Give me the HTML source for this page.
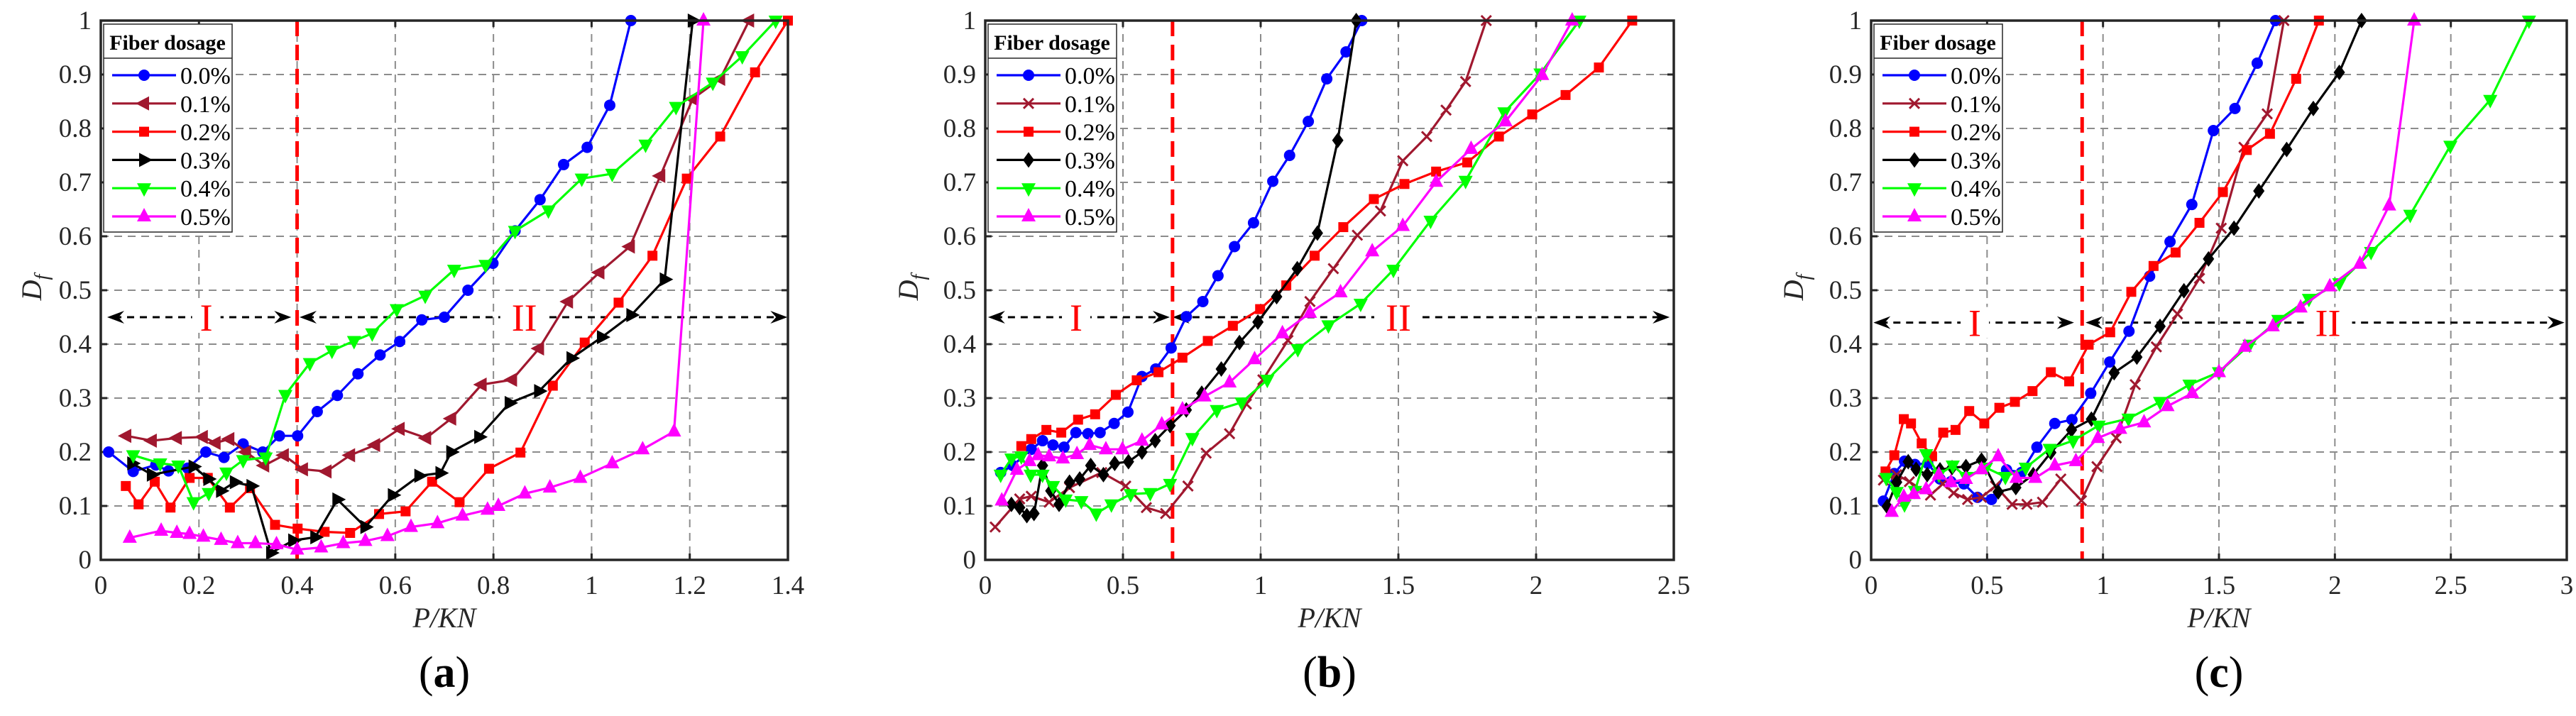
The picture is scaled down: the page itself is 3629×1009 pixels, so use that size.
<!DOCTYPE html>
<html><head><meta charset="utf-8">
<style>
html,body{margin:0;padding:0;background:#fff;}
svg{display:block;}
svg text{font-family:"Liberation Serif","DejaVu Serif",serif;}
</style></head>
<body>
<svg id="fig" width="3629" height="1009" viewBox="0 0 3629 1009" xmlns="http://www.w3.org/2000/svg"></svg>
<script>
// ---------- Panel (a) data ----------
const aX0=[0.016,0.066,0.112,0.138,0.177,0.214,0.251,0.29,0.33,0.364,0.401,0.441,0.482,0.524,0.569,0.609,0.654,0.70,0.748,0.799,0.844,0.895,0.943,0.991,1.037,1.08];
const aY0=[0.20,0.164,0.176,0.165,0.17,0.20,0.19,0.215,0.20,0.23,0.23,0.275,0.305,0.345,0.38,0.405,0.445,0.45,0.50,0.55,0.61,0.668,0.733,0.765,0.843,1.0];
const aX1=[0.052,0.104,0.155,0.208,0.234,0.262,0.296,0.333,0.373,0.412,0.46,0.508,0.559,0.609,0.663,0.714,0.776,0.838,0.893,0.952,1.016,1.078,1.14,1.206,1.262,1.321];
const aY1=[0.23,0.221,0.226,0.228,0.217,0.224,0.2,0.175,0.194,0.168,0.164,0.194,0.213,0.243,0.226,0.262,0.325,0.334,0.392,0.479,0.533,0.581,0.712,0.855,0.892,1.0];
const aX2=[0.051,0.077,0.11,0.142,0.181,0.218,0.263,0.304,0.355,0.401,0.456,0.508,0.567,0.621,0.675,0.731,0.791,0.855,0.921,0.986,1.055,1.124,1.194,1.262,1.333,1.4];
const aY2=[0.137,0.103,0.145,0.097,0.152,0.152,0.097,0.133,0.065,0.058,0.052,0.05,0.085,0.09,0.145,0.107,0.169,0.199,0.323,0.403,0.477,0.564,0.707,0.785,0.904,1.0];
const aX3=[0.064,0.104,0.189,0.219,0.245,0.273,0.307,0.347,0.392,0.437,0.482,0.539,0.595,0.649,0.692,0.714,0.771,0.833,0.893,0.959,1.021,1.081,1.149,1.206];
const aY3=[0.179,0.158,0.173,0.15,0.128,0.144,0.137,0.013,0.036,0.042,0.112,0.061,0.12,0.156,0.161,0.2,0.228,0.291,0.313,0.374,0.413,0.454,0.52,1.0];
const aX4=[0.066,0.121,0.158,0.189,0.22,0.256,0.29,0.336,0.376,0.426,0.471,0.516,0.553,0.603,0.661,0.72,0.784,0.844,0.912,0.98,1.042,1.11,1.172,1.247,1.307,1.375];
const aY4=[0.194,0.179,0.175,0.107,0.124,0.162,0.185,0.19,0.306,0.365,0.388,0.406,0.42,0.465,0.49,0.538,0.547,0.61,0.648,0.707,0.716,0.77,0.84,0.885,0.934,1.0];
const aX5=[0.059,0.123,0.155,0.181,0.209,0.245,0.279,0.315,0.358,0.4,0.449,0.494,0.539,0.584,0.632,0.686,0.737,0.788,0.81,0.864,0.915,0.977,1.042,1.104,1.168,1.228];
const aY5=[0.041,0.054,0.05,0.048,0.043,0.037,0.031,0.031,0.029,0.019,0.023,0.031,0.035,0.044,0.061,0.068,0.082,0.093,0.1,0.123,0.134,0.152,0.179,0.205,0.238,1.0];
const aXTicks=["0","0.2","0.4","0.6","0.8","1","1.2","1.4"];
// ---------- Panel (b) data ----------
const bX0=[0.056,0.1,0.167,0.208,0.246,0.286,0.329,0.373,0.417,0.468,0.518,0.569,0.619,0.675,0.73,0.79,0.845,0.905,0.974,1.044,1.105,1.173,1.24,1.31,1.367];
const bY0=[0.162,0.175,0.205,0.221,0.213,0.209,0.236,0.234,0.236,0.253,0.274,0.34,0.354,0.393,0.451,0.479,0.527,0.581,0.625,0.702,0.75,0.813,0.892,0.942,1.0];
const bX1=[0.036,0.125,0.167,0.232,0.306,0.423,0.51,0.585,0.655,0.736,0.802,0.887,0.948,1.008,1.099,1.179,1.264,1.351,1.435,1.516,1.603,1.673,1.744,1.819];
const bY1=[0.061,0.113,0.118,0.107,0.134,0.162,0.137,0.097,0.086,0.137,0.198,0.234,0.289,0.334,0.407,0.479,0.54,0.602,0.647,0.74,0.785,0.834,0.887,1.0];
const bX2=[0.131,0.167,0.222,0.276,0.337,0.399,0.474,0.55,0.629,0.716,0.808,0.899,0.998,1.093,1.196,1.3,1.411,1.522,1.637,1.75,1.865,1.986,2.107,2.228,2.349];
const bY2=[0.211,0.224,0.241,0.236,0.26,0.27,0.306,0.333,0.348,0.375,0.406,0.434,0.465,0.509,0.564,0.617,0.669,0.697,0.72,0.737,0.785,0.826,0.862,0.913,1.0];
const bX3=[0.095,0.125,0.151,0.177,0.208,0.238,0.268,0.306,0.343,0.383,0.429,0.47,0.52,0.569,0.617,0.671,0.73,0.786,0.857,0.923,0.99,1.058,1.133,1.206,1.28,1.347];
const bY3=[0.103,0.097,0.082,0.086,0.175,0.128,0.103,0.144,0.15,0.175,0.158,0.179,0.182,0.2,0.221,0.249,0.278,0.309,0.354,0.403,0.441,0.488,0.54,0.606,0.778,1.0];
const bX4=[0.056,0.095,0.131,0.165,0.208,0.246,0.292,0.349,0.403,0.458,0.528,0.599,0.671,0.752,0.841,0.931,1.024,1.135,1.246,1.363,1.482,1.617,1.744,1.885,2.016,2.157];
const bY4=[0.158,0.188,0.192,0.158,0.158,0.137,0.112,0.109,0.086,0.103,0.122,0.124,0.141,0.226,0.278,0.292,0.334,0.391,0.435,0.475,0.538,0.629,0.703,0.83,0.902,1.0];
const bX5=[0.06,0.115,0.161,0.192,0.232,0.282,0.333,0.379,0.438,0.498,0.569,0.641,0.716,0.796,0.887,0.978,1.079,1.179,1.29,1.405,1.516,1.637,1.764,1.889,2.022,2.131];
const bY5=[0.11,0.167,0.183,0.194,0.192,0.188,0.196,0.213,0.205,0.205,0.221,0.251,0.279,0.303,0.329,0.372,0.42,0.458,0.496,0.572,0.619,0.701,0.762,0.813,0.899,1.0];
const bXTicks=["0","0.5","1","1.5","2","2.5"];
// ---------- Panel (c) data ----------
const cX0=[0.053,0.1,0.144,0.189,0.244,0.297,0.344,0.4,0.459,0.519,0.584,0.648,0.715,0.792,0.866,0.947,1.029,1.112,1.201,1.289,1.383,1.476,1.569,1.665,1.744];
const cY0=[0.109,0.16,0.183,0.177,0.179,0.15,0.145,0.141,0.116,0.112,0.167,0.162,0.209,0.253,0.26,0.309,0.367,0.424,0.526,0.59,0.659,0.796,0.837,0.921,1.0];
const cX1=[0.053,0.11,0.165,0.256,0.309,0.356,0.416,0.476,0.536,0.608,0.672,0.739,0.818,0.907,0.974,1.057,1.139,1.23,1.321,1.416,1.51,1.608,1.708,1.78];
const cY1=[0.148,0.158,0.145,0.12,0.141,0.124,0.112,0.116,0.137,0.103,0.103,0.107,0.15,0.11,0.173,0.226,0.325,0.395,0.456,0.522,0.615,0.765,0.827,1.0];
const cX2=[0.062,0.1,0.141,0.172,0.218,0.263,0.311,0.364,0.423,0.488,0.553,0.62,0.696,0.775,0.854,0.938,1.031,1.122,1.218,1.313,1.416,1.517,1.62,1.72,1.833,1.931];
const cY2=[0.164,0.194,0.261,0.253,0.216,0.192,0.236,0.241,0.276,0.253,0.282,0.293,0.313,0.348,0.331,0.399,0.422,0.497,0.545,0.57,0.625,0.682,0.76,0.79,0.892,1.0];
const cX3=[0.069,0.11,0.16,0.194,0.242,0.297,0.349,0.409,0.476,0.548,0.624,0.699,0.775,0.864,0.95,1.048,1.146,1.246,1.349,1.455,1.565,1.672,1.792,1.907,2.019,2.115];
const cY3=[0.099,0.144,0.182,0.168,0.158,0.167,0.171,0.173,0.185,0.126,0.134,0.158,0.199,0.241,0.261,0.347,0.376,0.433,0.499,0.558,0.615,0.684,0.761,0.837,0.904,1.0];
const cX4=[0.065,0.11,0.144,0.189,0.237,0.292,0.352,0.409,0.495,0.579,0.667,0.77,0.871,0.981,1.11,1.246,1.373,1.5,1.632,1.756,1.888,2.019,2.156,2.325,2.498,2.67,2.837];
const cY4=[0.152,0.126,0.103,0.128,0.196,0.158,0.175,0.154,0.171,0.154,0.171,0.206,0.221,0.249,0.262,0.293,0.325,0.348,0.399,0.445,0.484,0.513,0.571,0.64,0.768,0.853,1.0];
const cX5=[0.089,0.141,0.184,0.237,0.292,0.344,0.409,0.476,0.548,0.627,0.708,0.792,0.883,0.978,1.074,1.177,1.278,1.385,1.5,1.612,1.732,1.852,1.978,2.108,2.234,2.342];
const cY5=[0.089,0.117,0.122,0.131,0.158,0.144,0.15,0.168,0.192,0.152,0.152,0.175,0.183,0.226,0.243,0.255,0.285,0.309,0.348,0.395,0.433,0.468,0.507,0.549,0.657,1.0];
const cXTicks=["0","0.5","1","1.5","2","2.5","3"];
const yTicks=["0","0.1","0.2","0.3","0.4","0.5","0.6","0.7","0.8","0.9","1"];
const seriesLabels=["0.0%","0.1%","0.2%","0.3%","0.4%","0.5%"];
const seriesColors=["#0000ff","#a0182f","#ff0000","#000000","#00ff00","#ff00ff"];

const NS="http://www.w3.org/2000/svg";
const svg=document.getElementById('fig');
const FONT='"Liberation Serif", "DejaVu Serif", serif';
function mk(tag,attrs,parent){const e=document.createElementNS(NS,tag);for(const k in attrs)e.setAttribute(k,attrs[k]);if(tag==='text')e.setAttribute('font-family',FONT);(parent||svg).appendChild(e);return e;}

function marker(g,type,cx,cy,color){
  let e;
  if(type==='circle'){e=mk('circle',{cx:cx,cy:cy,r:8,fill:color},g);}
  else if(type==='square'){e=mk('rect',{x:cx-7,y:cy-7,width:14,height:14,fill:color},g);}
  else if(type==='diamond'){e=mk('polygon',{points:`${cx},${cy-11} ${cx+8},${cy} ${cx},${cy+11} ${cx-8},${cy}`,fill:color},g);}
  else if(type==='x'){e=mk('path',{d:`M${cx-7},${cy-7}L${cx+7},${cy+7}M${cx-7},${cy+7}L${cx+7},${cy-7}`,stroke:color,'stroke-width':3,fill:'none'},g);}
  else{
    let p;
    if(type==='up')p=[[0,-12],[10,7],[-10,7]];
    else if(type==='down')p=[[0,12],[10,-7],[-10,-7]];
    else if(type==='left')p=[[-12,0],[7,-10],[7,10]];
    else p=[[12,0],[-7,-10],[-7,10]];
    e=mk('polygon',{points:p.map(q=>`${cx+q[0]},${cy+q[1]}`).join(' '),fill:color},g);
  }
  
  
}

function panel(cfg){
  const L=cfg.left,R=cfg.right,T=29,B=789;
  const sx=v=>L+(v/cfg.xmax)*(R-L);
  const sy=v=>B-v*(B-T);
  const g=mk('g',{});
  
  
  const grid=mk('g',{stroke:'#8c8c8c','stroke-width':2,'stroke-dasharray':'11,8'},g);
  
  
  cfg.xticks.forEach((t,i)=>{const x=sx(parseFloat(t));if(i>0&&i<cfg.xticks.length-1)mk('line',{x1:x,y1:T,x2:x,y2:B},grid);});
  yTicks.forEach((t,i)=>{const y=sy(parseFloat(t));if(i>0&&i<yTicks.length-1)mk('line',{x1:L,y1:y,x2:R,y2:y},grid);});
  const ax=mk('g',{},g);
  
  
  cfg.xticks.forEach(t=>{const x=sx(parseFloat(t));
    mk('line',{x1:x,y1:B,x2:x,y2:B-9,stroke:'#262626','stroke-width':3},ax);
    mk('line',{x1:x,y1:T,x2:x,y2:T+9,stroke:'#262626','stroke-width':3},ax);
    const tx=mk('text',{x:x,y:837,'text-anchor':'middle','font-size':37,fill:'#262626'},ax);tx.textContent=t;
    });
  yTicks.forEach(t=>{const y=sy(parseFloat(t));
    mk('line',{x1:L,y1:y,x2:L+9,y2:y,stroke:'#262626','stroke-width':3},ax);
    mk('line',{x1:R,y1:y,x2:R-9,y2:y,stroke:'#262626','stroke-width':3},ax);
    const tx=mk('text',{x:L-13,y:y+12,'text-anchor':'end','font-size':37,fill:'#262626'},ax);tx.textContent=t;
    });
  const xt=mk('text',{x:(L+R)/2,y:884,'text-anchor':'middle','font-size':40,'font-style':'italic',fill:'#262626'},g);
  xt.textContent='P/KN';
  const yt=mk('text',{x:0,y:0,'text-anchor':'middle','font-size':40,'font-style':'italic',fill:'#262626',transform:`translate(${cfg.ylx},${405}) rotate(-90)`},g);
  yt.innerHTML='D<tspan font-size="28" dy="10">f</tspan>';
  
  const cap=mk('text',{x:(L+R)/2,y:968,'text-anchor':'middle','font-size':62,fill:'#000'},g);
  cap.innerHTML='(<tspan font-weight="bold">'+cfg.id+'</tspan>)';
  
  const ar=mk('g',{},g);
  
  const ay=sy(cfg.arrowY);
  function arrow(x1,x2){
    mk('line',{x1:x1+10,y1:ay,x2:x2-10,y2:ay,stroke:'#000','stroke-width':3,'stroke-dasharray':'10,8'},ar);
    mk('polygon',{points:`${x1},${ay} ${x1+24},${ay-9} ${x1+16},${ay} ${x1+24},${ay+9}`,fill:'#000'},ar);
    mk('polygon',{points:`${x2},${ay} ${x2-24},${ay-9} ${x2-16},${ay} ${x2-24},${ay+9}`,fill:'#000'},ar);
  }
  arrow(sx(cfg.seg[0]),sx(cfg.seg[1]));arrow(sx(cfg.seg[2]),sx(cfg.seg[3]));
  [[cfg.r1,'I'],[cfg.r2,'II']].forEach(([v,s])=>{
    mk('rect',{x:sx(v)-(s.length*14+6),y:ay-22,width:s.length*28+12,height:44,fill:'#fff'},ar);
    const t=mk('text',{x:sx(v),y:ay+19,'text-anchor':'middle','font-size':54,fill:'#ff0000'},ar);t.textContent=s;
    });
  const dv=mk('line',{x1:sx(cfg.divider),y1:T,x2:sx(cfg.divider),y2:B,stroke:'#ff0000','stroke-width':5,'stroke-dasharray':'22,12'},g);
  
  cfg.series.forEach((s,i)=>{
    const sg=mk('g',{},g);
    
    
    const pts=s.x.map((v,j)=>`${sx(v)},${sy(s.y[j])}`).join(' ');
    mk('polyline',{points:pts,fill:'none',stroke:seriesColors[i],'stroke-width':3.2,'stroke-linejoin':'round'},sg);
    s.x.forEach((v,j)=>marker(sg,cfg.markers[i],sx(v),sy(s.y[j]),seriesColors[i]));
  });
  const box=mk('rect',{x:L,y:T,width:R-L,height:B-T,fill:'none',stroke:'#262626','stroke-width':3.5},g);
  
  const lg=mk('g',{},g);
  
  const lx=L+4;
  mk('rect',{x:lx,y:34,width:181,height:293,fill:'#fff',stroke:'#262626','stroke-width':1.5},lg);
  mk('line',{x1:lx,y1:82,x2:lx+181,y2:82,stroke:'#262626','stroke-width':1.5},lg);
  const lt=mk('text',{x:lx+90,y:70,'text-anchor':'middle','font-size':30,'font-weight':'bold',fill:'#000'},lg);
  lt.textContent='Fiber dosage';
  seriesLabels.forEach((lab,i)=>{
    const y=106+39.8*i;
    const en=mk('g',{},lg);
    
    mk('line',{x1:lx+12,y1:y,x2:lx+102,y2:y,stroke:seriesColors[i],'stroke-width':3.2},en);
    marker(en,cfg.markers[i],lx+57,y,seriesColors[i]);
    const t=mk('text',{x:lx+108,y:y+12,'font-size':34,fill:'#000'},en);t.textContent=lab;
  });
}

panel({id:'a',left:142,right:1110,xmax:1.4,xticks:aXTicks,ylx:58,divider:0.4,arrowY:0.45,seg:[0.013,0.388,0.405,1.399],r1:0.215,r2:0.863,
  markers:['circle','left','square','right','down','up'],
  series:[{x:aX0,y:aY0},{x:aX1,y:aY1},{x:aX2,y:aY2},{x:aX3,y:aY3},{x:aX4,y:aY4},{x:aX5,y:aY5}]});
panel({id:'b',left:1388,right:2358,xmax:2.5,xticks:bXTicks,ylx:1293,divider:0.68,arrowY:0.45,seg:[0.01,0.67,0.68,2.485],r1:0.33,r2:1.50,
  markers:['circle','x','square','diamond','down','up'],
  series:[{x:bX0,y:bY0},{x:bX1,y:bY1},{x:bX2,y:bY2},{x:bX3,y:bY3},{x:bX4,y:bY4},{x:bX5,y:bY5}]});
panel({id:'c',left:2636,right:3616,xmax:3,xticks:cXTicks,ylx:2540,divider:0.91,arrowY:0.44,seg:[0.01,0.875,0.925,2.99],r1:0.447,r2:1.97,
  markers:['circle','x','square','diamond','down','up'],
  series:[{x:cX0,y:cY0},{x:cX1,y:cY1},{x:cX2,y:cY2},{x:cX3,y:cY3},{x:cX4,y:cY4},{x:cX5,y:cY5}]});
</script>
</body></html>
